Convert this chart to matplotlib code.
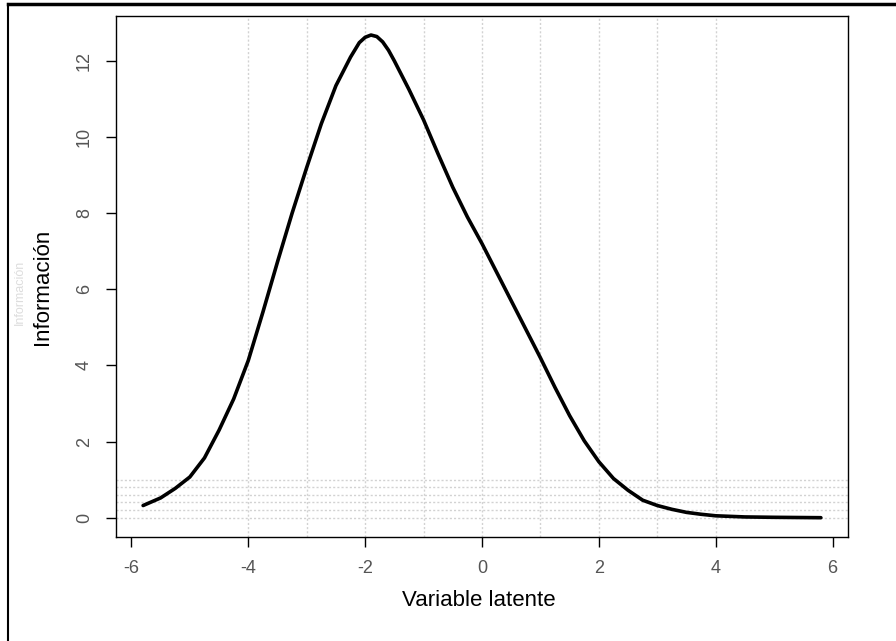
import matplotlib
matplotlib.use("Agg")
import matplotlib.pyplot as plt
from matplotlib.lines import Line2D

plt.rcParams['font.family'] = ['Liberation Sans', 'DejaVu Sans']

# curva de informacion
theta = [-5.8, -5.5, -5.25, -5.0, -4.75, -4.5, -4.25, -4.0, -3.75, -3.5,
         -3.25, -3.0, -2.75, -2.5, -2.25, -2.1, -2.0, -1.9, -1.8, -1.7,
         -1.6, -1.5, -1.25, -1.0, -0.75, -0.5, -0.25, 0.0, 0.25, 0.5,
         0.75, 1.0, 1.25, 1.5, 1.75, 2.0, 2.25, 2.5, 2.75, 3.0,
         3.25, 3.5, 3.75, 4.0, 4.5, 5.0, 5.8]
info = [0.32, 0.52, 0.77, 1.07, 1.57, 2.30, 3.12, 4.13, 5.40, 6.72,
        8.00, 9.20, 10.35, 11.35, 12.10, 12.48, 12.62, 12.68, 12.64, 12.50,
        12.28, 12.00, 11.25, 10.45, 9.55, 8.68, 7.90, 7.20, 6.45, 5.70,
        4.95, 4.20, 3.42, 2.68, 2.02, 1.47, 1.03, 0.72, 0.46, 0.32,
        0.22, 0.14, 0.09, 0.05, 0.02, 0.01, 0.0]

xticks = [-6, -4, -2, 0, 2, 4, 6]
yticks = [0, 2, 4, 6, 8, 10, 12]
vgrid = [-4, -3, -2, -1, 0, 1, 2, 3, 4]
hgrid = [0, 0.2, 0.4, 0.6, 0.8, 1.0]

W, H = 896, 641
fig = plt.figure(figsize=(W / 100, H / 100), dpi=100)
ax = fig.add_axes([116 / W, 1 - 537 / H, (848 - 116) / W, (537 - 16) / H])

for v in vgrid:
    ax.axvline(v, color='#d2d2d2', lw=1, ls=(0, (1.5, 1.5)), zorder=0)
for h in hgrid:
    ax.axhline(h, color='#d2d2d2', lw=1, ls=(0, (1.5, 1.5)), zorder=0)

ax.plot(theta, info, color='black', lw=2.6, solid_capstyle='round',
        solid_joinstyle='round')

ax.set_xlim(-6.264, 6.264)
ax.set_ylim(-0.507, 13.18)
ax.set_xticks(xticks)
ax.set_yticks(yticks)
ax.set_xticklabels([str(t) for t in xticks])
ax.set_yticklabels([str(t) for t in yticks], rotation=90, va='center')
ax.tick_params(axis='both', length=7.5, width=1, labelsize=13,
               labelcolor='#555555', color='black')
ax.tick_params(axis='x', pad=9)
ax.tick_params(axis='y', pad=9)
for s in ax.spines.values():
    s.set_linewidth(1)
    s.set_color('black')

fig.text(479 / W, 1 - 600 / H, 'Variable latente', fontsize=16,
         ha='center', va='center')
fig.text(42 / W, 1 - 287 / H, 'Información', fontsize=16,
         rotation=90, ha='center', va='center')
# rastro tenue de otra etiqueta
fig.text(20 / W, 1 - 292 / H, 'Información', fontsize=9, color='#dddddd',
         rotation=90, ha='center', va='center')

# marco exterior (solo arriba e izquierda)
fig.add_artist(Line2D([8 / W, 1], [1 - 4 / H, 1 - 4 / H], color='black', lw=2.5,
                      transform=fig.transFigure))
fig.add_artist(Line2D([8 / W, 8 / W], [0, 1 - 4 / H], color='black', lw=1.5,
                      transform=fig.transFigure))

fig.savefig('out.png', dpi=100)
